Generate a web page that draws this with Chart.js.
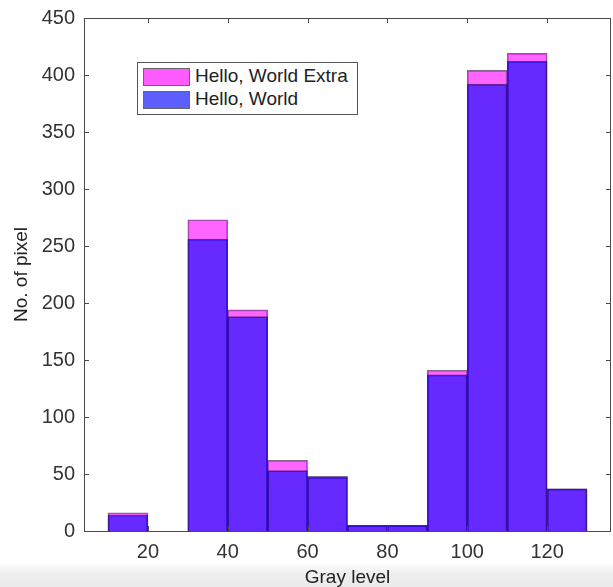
<!DOCTYPE html>
<html>
<head>
<meta charset="utf-8">
<script src="https://cdn.jsdelivr.net/npm/chart.js@4/dist/chart.umd.min.js"></script>
<style>
  body { margin: 0; width: 613px; height: 587px; overflow: hidden;
    background: linear-gradient(to bottom, #fff 0px, #fff 562px, #eeeeee 574px, #ebebeb 587px); }
  #wrap { position: relative; width: 613px; height: 587px; }
  #legend { position: absolute; left: 137px; top: 62px; width: 219px; height: 51px;
    border: 1px solid #555; background: #fff; font-family: "Liberation Sans", Arial, sans-serif;
    font-size: 19px; color: #222; }
  .item { position: absolute; left: 5px; height: 17px; }
  .sw { position: absolute; left: 0; top: 0; width: 45px; height: 16px; border: 1px solid #666; }
  .lbl { position: absolute; left: 52px; top: -3px; white-space: nowrap; }
</style>
</head>
<body>
<div id="wrap">
  <canvas id="histChart" width="613" height="587"></canvas>
  <div id="legend"></div>
</div>
<script>
// bin centres (bin width 10)
const binCenters = [15, 35, 45, 55, 65, 75, 85, 95, 105, 115, 125];
const worldCounts = [14, 256, 188, 53, 47, 5, 5, 137, 392, 412, 37];
const extraCounts = [16, 273, 194, 62, 48, 5, 5, 141, 404, 419, 37];
const xTicks = [20, 40, 60, 80, 100, 120];
const yTicks = [0, 50, 100, 150, 200, 250, 300, 350, 400, 450];

const fontFam = '"Liberation Sans", Arial, sans-serif';

function pts(vals) {
  return binCenters.map((c, i) => ({ x: c, y: vals[i] }));
}

// frame + inward tick marks like matlab
const boxPlugin = {
  id: 'box',
  afterDatasetsDraw(chart) {
    const ctx = chart.ctx;
    const a = chart.chartArea;
    const xs = chart.scales.x, ys = chart.scales.y;
    ctx.save();
    ctx.strokeStyle = '#4a4a4a';
    ctx.lineWidth = 1;
    ctx.strokeRect(Math.round(a.left) + 0.5, Math.round(a.top) + 0.5,
      Math.round(a.right - a.left) - 1, Math.round(a.bottom - a.top));
    ctx.beginPath();
    xTicks.forEach(v => {
      const px = Math.round(xs.getPixelForValue(v)) + 0.5;
      ctx.moveTo(px, a.bottom); ctx.lineTo(px, a.bottom - 5);
      ctx.moveTo(px, a.top); ctx.lineTo(px, a.top + 5);
    });
    yTicks.forEach(v => {
      const py = Math.round(ys.getPixelForValue(v)) + 0.5;
      ctx.moveTo(a.left, py); ctx.lineTo(a.left + 5, py);
      ctx.moveTo(a.right, py); ctx.lineTo(a.right - 5, py);
    });
    ctx.stroke();
    ctx.restore();
  }
};

const chart = new Chart('histChart', {
  type: 'bar',
  data: {
    datasets: [
      {
        label: 'Hello, World',
        data: pts(worldCounts),
        backgroundColor: 'rgba(0,0,255,0.6)',
        borderColor: 'rgba(30,0,70,0.6)',
        borderWidth: 1
      },
      {
        label: 'Hello, World Extra',
        data: pts(extraCounts),
        backgroundColor: 'rgba(255,0,255,0.6)',
        borderColor: 'rgba(50,0,70,0.6)',
        borderWidth: 1
      }
    ]
  },
  options: {
    responsive: false,
    animation: false,
    grouped: false,
    barPercentage: 1,
    categoryPercentage: 1,
    layout: { padding: { top: 18, right: 2, left: 0, bottom: 0 } },
    plugins: {
      legend: { display: false },
      tooltip: { enabled: false }
    },
    scales: {
      x: {
        type: 'linear',
        min: 4,
        max: 136,
        offset: false,
        grid: { display: false, offset: false },
        border: { display: false },
        afterBuildTicks: s => { s.ticks = xTicks.map(v => ({ value: v })); },
        afterFit: s => { s.height = 56; },
        ticks: { color: '#333', padding: 1, maxRotation: 0, font: { family: fontFam, size: 20 } },
        title: { display: true, text: 'Gray level', color: '#222', padding: { top: 0, bottom: -2 },
          font: { family: fontFam, size: 19 } }
      },
      y: {
        min: 0,
        max: 450,
        grid: { display: false },
        border: { display: false },
        afterBuildTicks: s => { s.ticks = yTicks.map(v => ({ value: v })); },
        afterFit: s => { s.width = 84; },
        ticks: { color: '#333', padding: 1, font: { family: fontFam, size: 20 } },
        title: { display: true, text: 'No. of pixel', color: '#222', padding: { top: 10, bottom: 0 },
          font: { family: fontFam, size: 19 } }
      }
    }
  },
  plugins: [boxPlugin]
});

// legend box inside the axes, extra first
const legend = document.getElementById('legend');
const swatchCols = { 'Hello, World Extra': '#ff5cff', 'Hello, World': '#5e5eff' };
chart.data.datasets.slice().reverse().forEach((ds, i) => {
  const it = document.createElement('div');
  it.className = 'item';
  it.style.top = (5 + i * 23) + 'px';
  it.innerHTML = '<div class="sw" style="background:' + swatchCols[ds.label] + '"></div>' +
    '<div class="lbl">' + ds.label + '</div>';
  legend.appendChild(it);
});
</script>
</body>
</html>
